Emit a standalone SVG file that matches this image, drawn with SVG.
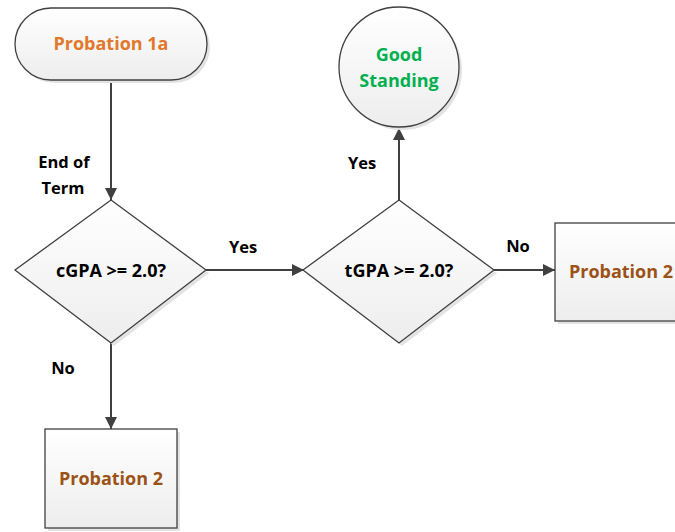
<svg xmlns="http://www.w3.org/2000/svg" width="675" height="532" viewBox="0 0 675 532">
<defs>
<linearGradient id="g" x1="0" y1="0" x2="0" y2="1">
<stop offset="0" stop-color="#ffffff"/>
<stop offset="1" stop-color="#ededed"/>
</linearGradient>
<marker id="ah" markerWidth="12" markerHeight="12" viewBox="0 0 12 12" refX="12" refY="6" orient="auto" markerUnits="userSpaceOnUse">
<path d="M0,0 L12,6 L0,12 Z" fill="#404040"/>
</marker>
</defs>
<style>
.shape{fill:url(#g);stroke:#404040;stroke-width:1.3}
.shadow{fill:#e3e3e3;stroke:none}
.conn{stroke:#404040;stroke-width:2;fill:none}
text{font-family:"Open Sans","Liberation Sans",sans-serif;font-weight:bold;text-anchor:middle}
.lbl{font-size:16.5px;fill:#000}
.node{font-size:18px;fill:#000}
</style>
<rect width="675" height="532" fill="#fff"/>
<g id="connectors">
<line class="conn" x1="111" y1="80" x2="111" y2="200" marker-end="url(#ah)"/>
<line class="conn" x1="206" y1="270" x2="304" y2="270" marker-end="url(#ah)"/>
<line class="conn" x1="399" y1="200" x2="399" y2="128" marker-end="url(#ah)"/>
<line class="conn" x1="494" y1="270" x2="555" y2="270" marker-end="url(#ah)"/>
<line class="conn" x1="111" y1="343" x2="111" y2="429" marker-end="url(#ah)"/>
<text class="lbl" x="64" y="168">End of</text>
<text class="lbl" x="63" y="194">Term</text>
<text class="lbl" x="243" y="253">Yes</text>
<text class="lbl" x="362" y="169">Yes</text>
<text class="lbl" x="518" y="252">No</text>
<text class="lbl" x="63" y="374">No</text>
</g>
<g id="probation1a">
<rect class="shadow" x="18" y="11" width="192" height="72" rx="36"/>
<rect class="shape" x="15" y="8" width="192" height="72" rx="36"/>
<text class="node" x="111" y="50" style="fill:#e0792b">Probation 1a</text>
</g>
<g id="goodStanding">
<circle class="shadow" cx="402" cy="70" r="60"/>
<circle class="shape" cx="399" cy="67" r="60"/>
<text class="node" x="399" y="61" style="fill:#00b050">Good</text>
<text class="node" x="399" y="87" style="fill:#00b050">Standing</text>
</g>
<g id="cgpa">
<polygon class="shadow" points="114,203 209,273 114,346 18,273"/>
<polygon class="shape" points="111,200 206,270 111,343 15,270"/>
<text class="node" x="111" y="277">cGPA &gt;= 2.0?</text>
</g>
<g id="tgpa">
<polygon class="shadow" points="402,203 497,273 402,346 306,273"/>
<polygon class="shape" points="399,200 494,270 399,343 303,270"/>
<text class="node" x="399" y="277">tGPA &gt;= 2.0?</text>
</g>
<g id="probation2right">
<rect class="shadow" x="558" y="226" width="132" height="98"/>
<rect class="shape" x="555" y="223" width="132" height="98"/>
<text class="node" x="621" y="278" style="fill:#9c5217">Probation 2</text>
</g>
<g id="probation2bottom">
<rect class="shadow" x="48" y="432" width="132" height="99"/>
<rect class="shape" x="45" y="429" width="132" height="99"/>
<text class="node" x="111" y="485" style="fill:#9c5217">Probation 2</text>
</g>
</svg>
